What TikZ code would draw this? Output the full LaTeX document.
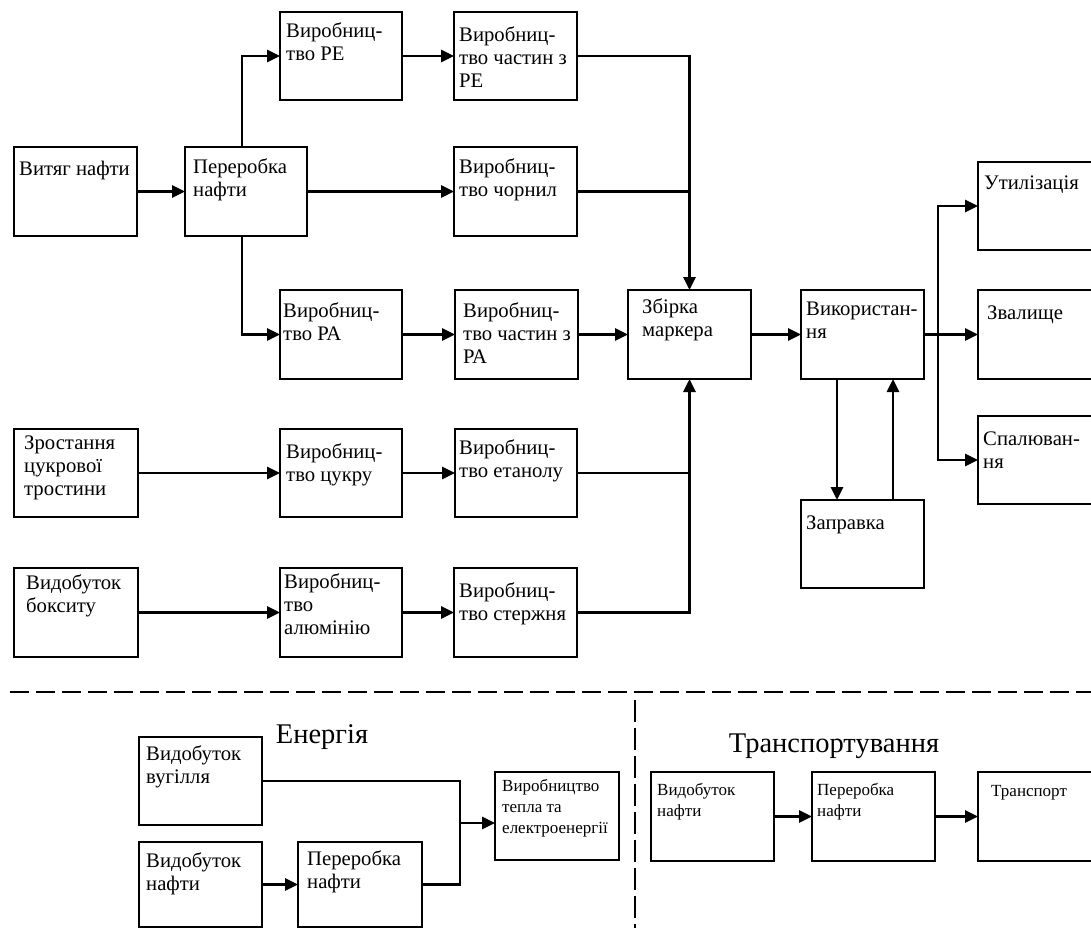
\documentclass[tikz,border=0pt]{standalone}
\usepackage{fontspec}
\setmainfont{Liberation Serif}
\usetikzlibrary{arrows.meta,calc}

\tikzset{
  box/.style={draw, line width=2.2pt, rectangle, inner sep=0pt, outer sep=0pt, anchor=north west},
  lbl/.style={anchor=north west, inner sep=0pt, align=left, font=\fontsize{20.7}{23}\selectfont},
  lbls/.style={lbl, font=\fontsize{17}{21}\selectfont},
  ttl/.style={anchor=base, inner sep=0pt, font=\fontsize{28.5}{32}\selectfont},
  ln/.style={line width=2.9pt},
  arr/.style={ln, -{Triangle[length=13pt,width=12pt]}},
  sep/.style={line width=2.3pt, dash pattern=on 19pt off 7pt},
}

% \blk[label style]{name}{x1}{y1}{x2}{y2}{text dx}{text dy}{text}
\newcommand\blk[9][lbl]{%
  \node[box, minimum width=#5pt-#3pt, minimum height=#6pt-#4pt] (#2) at (#3,#4) {};
  \node[#1] (#2-t) at ($(#2.north west)+(#7,#8)$) {\strut #9};
}

\begin{document}
\begin{tikzpicture}[x=1pt, y=-1pt]
\useasboundingbox (0,0) rectangle (1091,928);
\clip (0,0) rectangle (1091,928);

% ---- oil branch ----
\blk{vn}{14}{147}{137}{236}{5}{12}{Витяг нафти}
\blk{pn}{185}{147}{307}{236}{8}{10}{Переробка\\нафти}
\blk{pre}{280}{12}{402}{100}{6}{9}{Виробниц-\\тво РЕ}
\blk{cre}{454}{12}{577}{100}{5}{13}{Виробниц-\\тво частин з\\РЕ}
\blk{chor}{454}{147}{577}{236}{5}{10}{Виробниц-\\тво чорнил}
\blk{pra}{280}{290}{402}{379}{3}{11}{Виробниц-\\тво РА}
\blk{cra}{455}{290}{578}{379}{8}{11}{Виробниц-\\тво частин з\\РА}

% ---- assembly and use ----
\blk{zb}{628}{290}{751}{379}{14}{7}{Збірка\\маркера}
\blk{vk}{801}{290}{924}{379}{5}{9}{Використан-\\ня}
\blk{zp}{801}{500}{924}{588}{5}{13}{Заправка}
\blk{ut}{978}{162}{1100}{250}{6}{11}{Утилізація}
\blk{zv}{978}{290}{1100}{379}{9}{13}{Звалище}
\blk{sp}{978}{416}{1100}{504}{5}{13}{Спалюван-\\ня}

% ---- sugar cane and bauxite ----
\blk{zr}{14}{429}{138}{517}{10}{4}{Зростання\\цукрової\\тростини}
\blk{cuk}{280}{429}{402}{517}{6}{13}{Виробниц-\\тво цукру}
\blk{etan}{455}{429}{577}{517}{4}{9}{Виробниц-\\тво етанолу}
\blk{bok}{14}{568}{138}{657}{12}{5}{Видобуток\\бокситу}
\blk{alu}{280}{568}{402}{657}{4}{4}{Виробниц-\\тво\\алюмінію}
\blk{ster}{454}{568}{577}{657}{5}{13}{Виробниц-\\тво стержня}

% ---- flows ----
\draw[arr] (vn.east) -- (pn.west);
\draw[arr] ($(pn.north)+(-4,0)$) |- (pre.west);
\draw[arr] (pn.east) -- (chor.west);
\draw[arr] ($(pn.south)+(-4,0)$) |- (pra.west);
\draw[arr] (pre.east) -- (cre.west);
\draw[arr] (pra.east) -- (cra.west);
\draw[arr] (cre.east) -| (zb.north);
\draw[ln] (chor.east) -- (chor.east -| zb.north);
\draw[arr] (cra.east) -- (zb.west);
\draw[arr] (zr.east) -- (cuk.west);
\draw[arr] (cuk.east) -- (etan.west);
\draw[arr] (bok.east) -- (alu.west);
\draw[arr] (alu.east) -- (ster.west);
\draw[arr] (ster.east) -| (zb.south);
\draw[ln] (etan.east) -- (etan.east -| zb.south);
\draw[arr] (zb.east) -- (vk.west);
\draw[arr] (vk.east) -- (zv.west);
\coordinate (vj) at ($(vk.east)+(14,0)$);
\draw[arr] (vj) |- (ut.west);
\draw[arr] (vj) |- (sp.west);
\draw[arr] ($(vk.south west)+(36,0)$) -- ($(zp.north west)+(36,0)$);
\draw[arr] ($(zp.north west)+(92,0)$) -- ($(vk.south west)+(92,0)$);

% ---- separators ----
\coordinate (sl) at (10,692);
\coordinate (sr) at (1091,692);
\coordinate (st) at (635,700);
\coordinate (sb) at (635,928);
\draw[sep] (sl) -- (sr);
\draw[sep, dash pattern=on 22pt off 6pt] (st) -- (sb);

% ---- energy ----
\node[ttl] (en-title) at (322,743) {Енергія};
\blk{vug}{139}{737}{262}{825}{7}{7}{Видобуток\\вугілля}
\blk{enf}{139}{842}{262}{927}{7}{9}{Видобуток\\нафти}
\blk{epn}{298}{842}{422}{927}{9}{7}{Переробка\\нафти}
\blk[lbls]{tep}{495}{772}{619}{860}{7}{5}{Виробництво\\тепла та\\електроенергії}
\coordinate (ej) at (460,823);
\draw[arr] (enf.east) -- (epn.west);
\draw[ln] (vug.east) -| (ej);
\draw[ln] (epn.east) -| (ej);
\draw[arr] (ej) -- (ej -| tep.west);

% ---- transport ----
\node[ttl] (tr-title) at (834,752) {Транспортування};
\blk[lbls]{tv}{651}{772}{774}{861}{6}{9}{Видобуток\\нафти}
\blk[lbls]{tp}{812}{772}{935}{861}{5}{9}{Переробка\\нафти}
\blk[lbls]{tt}{978}{772}{1100}{861}{13}{10}{Транспорт}
\draw[arr] (tv.east) -- (tp.west);
\draw[arr] (tp.east) -- (tt.west);
\end{tikzpicture}
\end{document}
